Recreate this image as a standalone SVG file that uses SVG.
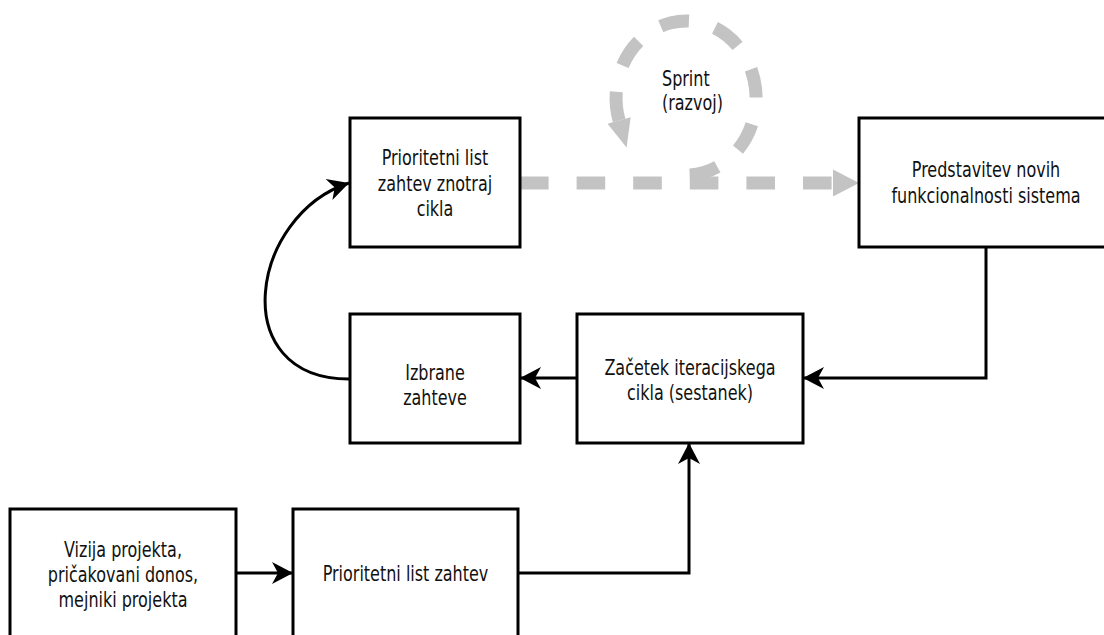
<svg xmlns="http://www.w3.org/2000/svg" width="1104" height="635" viewBox="0 0 1104 635">
  <style>
    .box { fill: #ffffff; stroke: #000000; stroke-width: 3; }
    .lbl { font-family: "DejaVu Sans", "Liberation Sans", sans-serif; font-size: 16px; fill: #111111; text-anchor: middle; }
    .lbl-left { text-anchor: start; }
    .wire { fill: none; stroke: #000000; stroke-width: 3; }
    .sprint { fill: none; stroke: #c3c3c3; stroke-width: 13; }
  </style>
  <defs>
    <!-- concave black arrowhead, tip at the path end -->
    <marker id="arrow" markerUnits="userSpaceOnUse" markerWidth="24" markerHeight="24" refX="21" refY="11" orient="auto" overflow="visible">
      <path d="M0,0 L21,11 L0,22 L6,11 Z" fill="#000000"/>
    </marker>
    <!-- wide grey triangle for the sprint flow -->
    <marker id="greyArrow" markerUnits="userSpaceOnUse" markerWidth="30" markerHeight="30" refX="0" refY="13.5" orient="auto" overflow="visible">
      <path d="M0,0 L26,13.5 L0,27 Z" fill="#c3c3c3"/>
    </marker>
    <marker id="greyArrowSmall" markerUnits="userSpaceOnUse" markerWidth="30" markerHeight="30" refX="0" refY="12" orient="auto" overflow="visible">
      <path d="M0,0 L28,12 L0,24 Z" fill="#c3c3c3"/>
    </marker>
  </defs>

  <rect width="1104" height="635" fill="#ffffff"/>

  <!-- connectors -->
  <g id="connectors">
    <!-- sprint loop -->
    <path class="sprint" stroke-dasharray="29 27" marker-end="url(#greyArrowSmall)" d="M689.7,174.9 A70,77 0 1 0 619.1,120.5"/>
    <!-- list within cycle -> presentation -->
    <path class="sprint" stroke-dasharray="28.6 28" marker-end="url(#greyArrow)" d="M520,183 H833"/>
    <!-- presentation -> iteration start -->
    <path class="wire" marker-end="url(#arrow)" d="M986,247 V378 H803"/>
    <!-- iteration start -> selected requirements -->
    <path class="wire" marker-end="url(#arrow)" d="M577,378 H520"/>
    <!-- selected requirements -> list within cycle -->
    <path class="wire" marker-end="url(#arrow)" d="M349,379 C225,379 250,215 349,183"/>
    <!-- vision -> priority list -->
    <path class="wire" marker-end="url(#arrow)" d="M237,573 H293"/>
    <!-- priority list -> iteration start -->
    <path class="wire" marker-end="url(#arrow)" d="M518,573 H689 V443"/>
  </g>

  <g id="sprint-label">
    <text class="lbl lbl-left" transform="matrix(1 0 0 1.28 662 86)">Sprint</text>
    <text class="lbl lbl-left" transform="matrix(1 0 0 1.28 662 110)">(razvoj)</text>
  </g>

  <g id="node-cycle-list">
    <rect class="box" x="350" y="118" width="170" height="129"/>
    <text class="lbl" transform="matrix(1 0 0 1.28 435 165)">Prioritetni list</text>
    <text class="lbl" transform="matrix(1 0 0 1.28 435 190.5)">zahtev znotraj</text>
    <text class="lbl" transform="matrix(1 0 0 1.28 435 216)">cikla</text>
  </g>

  <g id="node-presentation">
    <rect class="box" x="859" y="118" width="254" height="129"/>
    <text class="lbl" transform="matrix(1 0 0 1.28 986 177)">Predstavitev novih</text>
    <text class="lbl" transform="matrix(1 0 0 1.28 986 202.5)">funkcionalnosti sistema</text>
  </g>

  <g id="node-selected">
    <rect class="box" x="350" y="314" width="170" height="129"/>
    <text class="lbl" transform="matrix(1 0 0 1.28 435 380)">Izbrane</text>
    <text class="lbl" transform="matrix(1 0 0 1.28 435 405)">zahteve</text>
  </g>

  <g id="node-iteration-start">
    <rect class="box" x="577" y="314" width="226" height="129"/>
    <text class="lbl" transform="matrix(1 0 0 1.28 690 375)">Začetek iteracijskega</text>
    <text class="lbl" transform="matrix(1 0 0 1.28 690 400)">cikla (sestanek)</text>
  </g>

  <g id="node-vision">
    <rect class="box" x="10" y="509" width="226" height="140"/>
    <text class="lbl" transform="matrix(1 0 0 1.28 123 557)">Vizija projekta,</text>
    <text class="lbl" transform="matrix(1 0 0 1.28 123 582)">pričakovani donos,</text>
    <text class="lbl" transform="matrix(1 0 0 1.28 123 607)">mejniki projekta</text>
  </g>

  <g id="node-priority-list">
    <rect class="box" x="293" y="509" width="225" height="140"/>
    <text class="lbl" transform="matrix(1 0 0 1.28 405.5 580.5)">Prioritetni list zahtev</text>
  </g>
</svg>
